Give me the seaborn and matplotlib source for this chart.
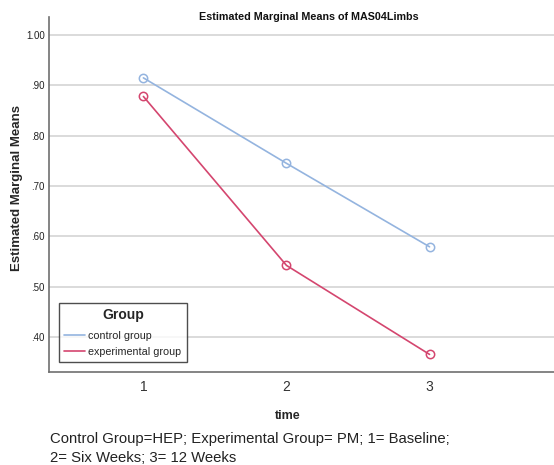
import matplotlib
matplotlib.use("Agg")
import matplotlib.pyplot as plt
import seaborn as sns
import pandas as pd
from matplotlib.lines import Line2D

time_points = [1, 2, 3]
control_means = [0.915, 0.745, 0.579]
experimental_means = [0.878, 0.542, 0.365]
groups = ["control group", "experimental group"]
y_ticks = [0.40, 0.50, 0.60, 0.70, 0.80, 0.90, 1.00]
y_tick_labels = [".40", ".50", ".60", ".70", ".80", ".90", "1.00"]

df = pd.DataFrame({
    "time": time_points * 2,
    "mean": control_means + experimental_means,
    "Group": [groups[0]] * 3 + [groups[1]] * 3,
})

sns.set_style("white")
plt.rcParams["font.family"] = ["Liberation Sans", "DejaVu Sans"]

fig = plt.figure(figsize=(5.54, 4.65), dpi=100)
ax = fig.add_axes([0.0884, 0.2, 0.9116, 0.7634])

palette = {groups[0]: "#94b4df", groups[1]: "#d4466f"}
sns.lineplot(data=df, x="time", y="mean", hue="Group", palette=palette,
             marker="o", markersize=6, markerfacecolor="none",
             markeredgewidth=1.1, linewidth=1.2, ax=ax, legend=True)
for line in ax.lines:
    line.set_markerfacecolor("none")
    line.set_markeredgecolor(line.get_color())

ax.set_xlim(0.34, 3.87)
ax.set_ylim(0.33, 1.036)
ax.set_yticks(y_ticks)
ax.set_yticklabels(y_tick_labels)
ax.set_xticks(time_points)
ax.set_xticklabels([str(t) for t in time_points])
ax.grid(axis="y", color="#d4d4d4", linewidth=1.2)
ax.set_axisbelow(True)
for s in ["top", "right"]:
    ax.spines[s].set_visible(False)
for s in ["left", "bottom"]:
    ax.spines[s].set_color("#6f6f6f")
    ax.spines[s].set_linewidth(1.2)
ax.tick_params(axis="y", labelsize=7, length=0, pad=3, colors="#222222")
ax.tick_params(axis="x", labelsize=10, length=0, pad=6, colors="#333333")

ax.set_xlabel("time", fontsize=9, fontweight="bold")
ax.xaxis.set_label_coords(0.473, -0.108)
ax.set_ylabel("Estimated Marginal Means", fontsize=9.5, fontweight="bold")
ax.yaxis.set_label_coords(-0.0515, 0.518)

fig.text(309 / 554, 1 - 17 / 465, "Estimated Marginal Means of MAS04Limbs",
         fontsize=7.75, fontweight="bold", ha="center", va="center", color="#111111")

handles = [Line2D([0], [0], color=palette[g], linewidth=1.2) for g in groups]
leg = ax.legend(handles, groups, title="Group", loc="lower left",
                bbox_to_anchor=(0.02, 0.028), fontsize=7.75, frameon=True,
                fancybox=False, edgecolor="#222222", handlelength=1.9,
                handletextpad=0.3, borderpad=0.5, labelspacing=0.55,
                borderaxespad=0)
leg.get_title().set_fontweight("bold")
leg.get_title().set_fontsize(10)
leg.get_frame().set_linewidth(1.0)
leg._legend_box.sep = 6

fig.text(0.09, 1 - 432 / 465,
         "Control Group=HEP; Experimental Group= PM; 1= Baseline;\n2= Six Weeks; 3= 12 Weeks",
         fontsize=10.75, color="#222222", ha="left", va="top", linespacing=1.45)

fig.savefig("out.png", dpi=100)
